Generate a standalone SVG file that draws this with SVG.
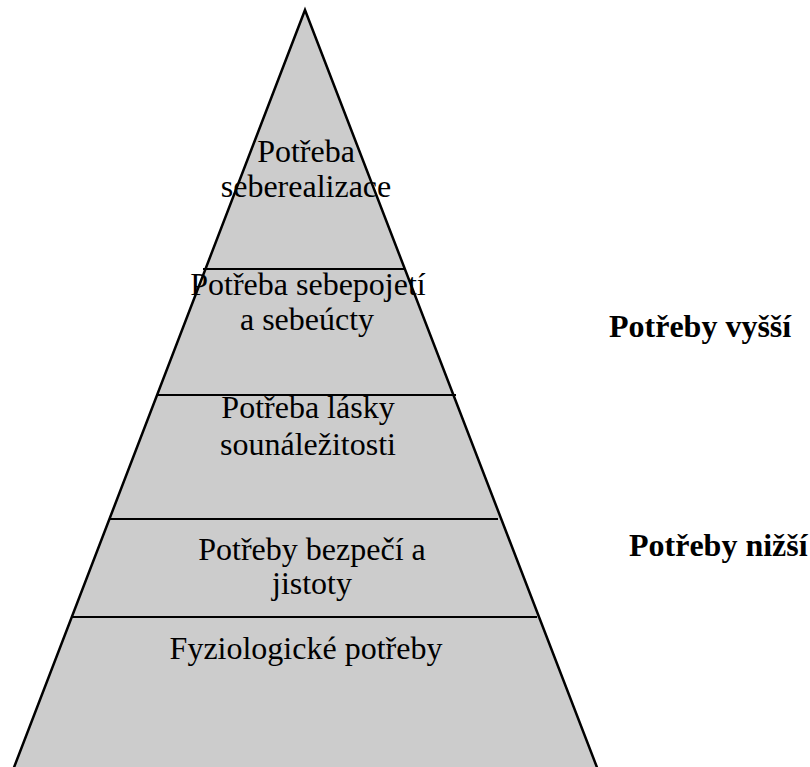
<svg xmlns="http://www.w3.org/2000/svg" width="810" height="767" viewBox="0 0 810 767">
<style>
.t{font-size:32px;fill:#000;text-anchor:middle}
.b{font-size:32px;font-weight:bold;fill:#000}
.sep{stroke:#000;stroke-width:2}
</style>
<rect width="810" height="767" fill="#fff"/>
<g id="pyramid">
<polygon points="305,10 13,770 598,770" fill="#cccccc" stroke="#000" stroke-width="2.5" stroke-linejoin="miter"/>
</g>
<g id="connectors">
<line class="sep" x1="203" y1="269" x2="405" y2="269"/>
<line class="sep" x1="156" y1="395" x2="456" y2="395"/>
<line class="sep" x1="109" y1="519" x2="498" y2="519"/>
<line class="sep" x1="72" y1="617" x2="537" y2="617"/>
</g>
<g font-family="Liberation Serif, Times New Roman, serif">
<g id="level5"><text class="t" x="306" y="162">Potřeba</text><text class="t" x="306" y="197">seberealizace</text></g>
<g id="level4"><text class="t" x="308" y="295">Potřeba sebepojetí</text><text class="t" x="307" y="330">a sebeúcty</text></g>
<g id="level3"><text class="t" x="308" y="418">Potřeba lásky</text><text class="t" x="308" y="455">sounáležitosti</text></g>
<g id="level2"><text class="t" x="312" y="560">Potřeby bezpečí a</text><text class="t" x="312" y="594">jistoty</text></g>
<g id="level1"><text class="t" x="306" y="659">Fyziologické potřeby</text></g>
<g id="label-higher"><text class="b" x="609" y="337">Potřeby vyšší</text></g>
<g id="label-lower"><text class="b" x="629" y="556">Potřeby nižší</text></g>
</g>
</svg>
